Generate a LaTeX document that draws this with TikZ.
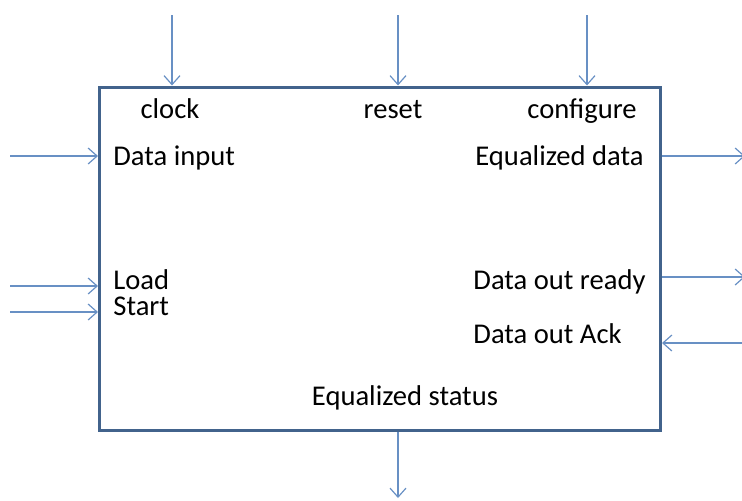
\documentclass[tikz,border=0pt]{standalone}
\usepackage{fontspec}
\setmainfont{Carlito}
\usetikzlibrary{arrows.meta}
\definecolor{boxblue}{RGB}{66,99,140}
\definecolor{wireblue}{RGB}{104,144,196}

\begin{document}
\begin{tikzpicture}[x=0.5pt, y=-0.5pt,
  blk/.style={draw=boxblue, line width=1.5pt, minimum width=280.5pt,
              minimum height=171.5pt, inner sep=0pt},
  lbl/.style={inner sep=0pt, font=\fontsize{14.3}{17}\selectfont},
  sig/.style={draw=wireblue, line width=0.6pt,
              -{Straight Barb[length=4.5pt, width=8pt]}}
]
\useasboundingbox (0,0) rectangle (742,500);
\node[blk] (eq) at (380,258.5) {};

\node[lbl, anchor=base] (clk) at (170,118) {clock};
\node[lbl, anchor=base] (rst) at (393,118) {reset};
\node[lbl, anchor=base] (cfg) at (582,118) {configure};
\node[lbl, anchor=base west] (din) at (113,165) {Data input};
\node[lbl, anchor=base east] (dout) at (644,165) {Equalized data};
\node[lbl, anchor=base west] (load) at (113,289) {Load};
\node[lbl, anchor=base west] (start) at (113,315) {Start};
\node[lbl, anchor=base west] (rdy) at (473,289) {Data out ready};
\node[lbl, anchor=base west] (ack) at (473,343) {Data out Ack};
\node[lbl, anchor=base] (stat) at (405,405) {Equalized status};

\coordinate (clkin) at (172,15);
\coordinate (rstin) at (398,15);
\coordinate (cfgin) at (587,15);
\coordinate (dinin) at (10,156);
\coordinate (loadin) at (10,286);
\coordinate (startin) at (10,312);
\coordinate (doutout) at (745,156);
\coordinate (rdyout) at (745,277);
\coordinate (ackin) at (742,343);
\coordinate (statout) at (398,498);

\draw[sig] (clkin) -- (clkin |- eq.north);
\draw[sig] (rstin) -- (rstin |- eq.north);
\draw[sig] (cfgin) -- (cfgin |- eq.north);
\draw[sig] (dinin) -- (dinin -| eq.west);
\draw[sig] (loadin) -- (loadin -| eq.west);
\draw[sig] (startin) -- (startin -| eq.west);
\draw[sig] (doutout -| eq.east) -- (doutout);
\draw[sig] (rdyout -| eq.east) -- (rdyout);
\draw[sig] (ackin) -- (ackin -| eq.east);
\draw[sig] (statout |- eq.south) -- (statout);
\end{tikzpicture}
\end{document}
